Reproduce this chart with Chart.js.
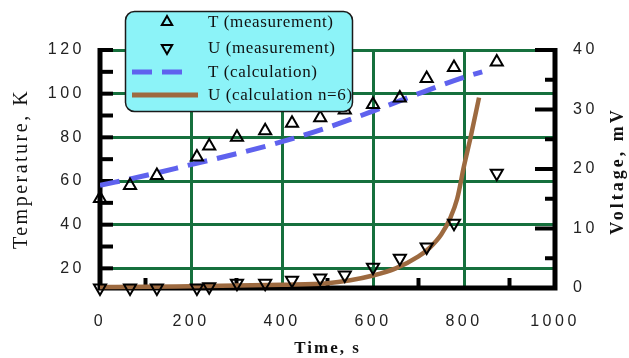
<!DOCTYPE html>
<html>
<head>
<meta charset="utf-8">
<script src="https://cdn.jsdelivr.net/npm/chart.js@4.4.1/dist/chart.umd.min.js"></script>
<style>
    html, body { margin: 0; padding: 0; background: #fff; }
    #wrap { width: 629px; height: 358px; }
</style>
</head>
<body>
<div id="wrap"><canvas id="tempChart" width="629" height="358"></canvas></div>
<script>
const timeMeas = [0, 66, 125, 213, 240, 301, 363, 422, 484, 538, 600, 659, 718, 778, 872];
const tempMeas = [52, 58, 62.5, 71, 76, 80, 83, 86.5, 89, 92.5, 95, 98, 107, 112, 114.5];
const voltMeas = [0, 0, 0, 0, 0.2, 0.8, 0.8, 1.3, 1.7, 2.2, 3.5, 5.0, 6.9, 10.9, 19.3];

// Calculated curves
const timeCalcT = [0, 100, 200, 300, 400, 500, 600, 700, 800, 840];
const tempCalc = [58, 62.5, 67.5, 72.5, 78, 84.5, 92, 100, 107.5, 110];
const timeCalcU = [0, 100, 200, 300, 400, 500, 550, 600, 650, 700, 725, 750, 770, 785, 800, 815, 833];
const voltCalc = [0.15, 0.2, 0.3, 0.4, 0.55, 0.8, 1.3, 2.1, 3.3, 5.3, 6.8, 9.0, 11.8, 15, 20.5, 25.5, 32];

// Tick labels
const tempTicks = [20, 40, 60, 80, 100, 120];
const voltTicks = [0, 10, 20, 30, 40];
const timeTicks = [0, 200, 400, 600, 800, 1000];

const GRID = '#16703d';
const BLUE = '#5f62ee';
const BROWN = '#9d6a40';

function pairs(xs, ys) {
    return xs.map((x, i) => ({ x: x, y: ys[i] }));
}

// letter spacing for the wide-set tick labels of the original
const spacing = {
    id: 'spacing',
    beforeDraw(chart) {
        chart.ctx.letterSpacing = '3.5px';
    }
};

// thick black axes with inward ticks
const axisFrame = {
    id: 'axisFrame',
    beforeDatasetsDraw(chart) {
        const { ctx, chartArea: a, scales } = chart;
        ctx.save();
        ctx.strokeStyle = '#000';
        ctx.lineWidth = 4;
        for (let v = 20; v <= 120; v += 10) {
            const y = scales.y.getPixelForValue(v);
            ctx.beginPath(); ctx.moveTo(a.left, y); ctx.lineTo(a.left + 13, y); ctx.stroke();
        }
        for (let v = 5; v <= 40; v += 5) {
            const y = scales.y2.getPixelForValue(v);
            const len = v % 10 === 0 ? 20 : 10;
            ctx.beginPath(); ctx.moveTo(a.right, y); ctx.lineTo(a.right - len, y); ctx.stroke();
        }
        for (let v = 100; v < 1000; v += 200) {
            const x = scales.x.getPixelForValue(v);
            ctx.beginPath(); ctx.moveTo(x, a.bottom); ctx.lineTo(x, a.bottom - 10); ctx.stroke();
        }
        ctx.lineWidth = 5;
        ctx.beginPath();
        ctx.moveTo(a.left, a.top - 2);
        ctx.lineTo(a.left, a.bottom);
        ctx.lineTo(a.right, a.bottom);
        ctx.lineTo(a.right, a.top - 2);
        ctx.stroke();
        ctx.restore();
    }
};

// axis titles, both vertical ones read bottom to top
const axisTitles = {
    id: 'axisTitles',
    afterDraw(chart) {
        const { ctx, chartArea: a } = chart;
        const midY = (a.top + a.bottom) / 2;
        function put(text, x, y, rot, font, gap) {
            ctx.save();
            ctx.letterSpacing = gap;
            ctx.translate(x, y);
            ctx.rotate(rot);
            ctx.font = font;
            ctx.fillStyle = '#111';
            ctx.textAlign = 'center';
            ctx.textBaseline = 'middle';
            ctx.fillText(text, 0, 0);
            ctx.restore();
        }
        put('Temperature, K', 22, midY, -Math.PI / 2, '20px "Liberation Serif"', '2.5px');
        put('Voltage, mV', 618, midY + 2, -Math.PI / 2, 'bold 18px "Liberation Serif"', '3px');
        put('Time, s', (a.left + a.right) / 2, 349, 0, 'bold 17px "Liberation Serif"', '2px');
    }
};

// boxed legend sitting over the plot
const boxLegend = {
    id: 'boxLegend',
    afterDraw(chart) {
        const ctx = chart.ctx;
        const ds = chart.data.datasets;
        const rows = [22, 48, 72, 95];
        ctx.save();
        ctx.letterSpacing = '0.6px';
        ctx.beginPath();
        ctx.roundRect(125.5, 11.5, 227, 100, 9);
        ctx.fillStyle = '#8cf3f8';
        ctx.fill();
        ctx.lineWidth = 1.5;
        ctx.strokeStyle = '#1a1a1a';
        ctx.stroke();

        ds.forEach((d, i) => {
            const y = rows[i];
            ctx.save();
            if (d.showLine === false) {
                ctx.strokeStyle = d.pointBorderColor;
                ctx.fillStyle = 'rgba(0,0,0,0)';
                ctx.lineWidth = 2;
                Chart.helpers.drawPoint(ctx, {
                    pointStyle: 'triangle',
                    rotation: d.pointRotation || 0,
                    radius: 6,
                    borderWidth: 2
                }, 167, y);
            } else {
                ctx.strokeStyle = d.borderColor;
                ctx.lineWidth = 5;
                ctx.setLineDash(d.borderDash || []);
                ctx.beginPath();
                ctx.moveTo(132, y);
                ctx.lineTo(d.borderDash ? 190 : 198, y);
                ctx.stroke();
            }
            ctx.restore();
            ctx.font = '17px "Liberation Serif"';
            ctx.fillStyle = '#111';
            ctx.textBaseline = 'middle';
            ctx.fillText(d.label, 208, y + 1);
        });
        ctx.restore();
    }
};

const tickFont = { family: 'Liberation Sans', size: 16 };
const plainLabel = v => String(v);

const chart = new Chart(document.getElementById('tempChart'), {
    type: 'line',
    data: {
        datasets: [{
            label: 'T (measurement)',
            data: pairs(timeMeas, tempMeas),
            yAxisID: 'y',
            showLine: false,
            pointStyle: 'triangle',
            pointRadius: 7,
            pointBorderWidth: 2,
            pointBorderColor: '#000',
            pointBackgroundColor: 'rgba(0,0,0,0)',
            clip: false
        }, {
            label: 'U (measurement)',
            data: pairs(timeMeas, voltMeas),
            yAxisID: 'y2',
            showLine: false,
            pointStyle: 'triangle',
            pointRotation: 180,
            pointRadius: 7,
            pointBorderWidth: 2,
            pointBorderColor: '#000',
            pointBackgroundColor: 'rgba(0,0,0,0)',
            clip: false
        }, {
            label: 'T (calculation)',
            data: pairs(timeCalcT, tempCalc),
            yAxisID: 'y',
            borderColor: BLUE,
            borderWidth: 5,
            borderDash: [20, 10],
            pointRadius: 0,
            cubicInterpolationMode: 'monotone'
        }, {
            label: 'U (calculation n=6)',
            data: pairs(timeCalcU, voltCalc),
            yAxisID: 'y2',
            borderColor: BROWN,
            borderWidth: 4.5,
            pointRadius: 0,
            cubicInterpolationMode: 'monotone',
            clip: false
        }]
    },
    options: {
        responsive: false,
        animation: false,
        layout: { padding: { top: 50 } },
        plugins: {
            legend: { display: false },
            tooltip: { enabled: false }
        },
        scales: {
            x: {
                type: 'linear',
                min: 0,
                max: 1000,
                afterBuildTicks: s => { s.ticks = timeTicks.map(v => ({ value: v })); },
                afterFit: s => { s.height = 70; },
                ticks: {
                    color: '#222',
                    padding: 24,
                    maxRotation: 0,
                    font: tickFont,
                    callback: plainLabel
                },
                grid: {
                    color: GRID,
                    lineWidth: 3,
                    drawTicks: false
                },
                border: { display: false }
            },
            y: {
                position: 'left',
                min: 11,
                max: 120,
                afterBuildTicks: s => { s.ticks = tempTicks.map(v => ({ value: v })); },
                afterFit: s => { s.width = 100; },
                ticks: {
                    color: '#222',
                    padding: 15,
                    font: tickFont,
                    callback: plainLabel
                },
                grid: {
                    color: GRID,
                    lineWidth: 3,
                    drawTicks: false
                },
                border: { display: false }
            },
            y2: {
                position: 'right',
                min: 0,
                max: 40,
                afterBuildTicks: s => { s.ticks = voltTicks.map(v => ({ value: v })); },
                afterFit: s => { s.width = 74; },
                ticks: {
                    color: '#222',
                    padding: 18,
                    font: tickFont,
                    callback: plainLabel
                },
                grid: { display: false, drawTicks: false },
                border: { display: false }
            }
        }
    },
    plugins: [spacing, axisFrame, axisTitles, boxLegend]
});
</script>
</body>
</html>
